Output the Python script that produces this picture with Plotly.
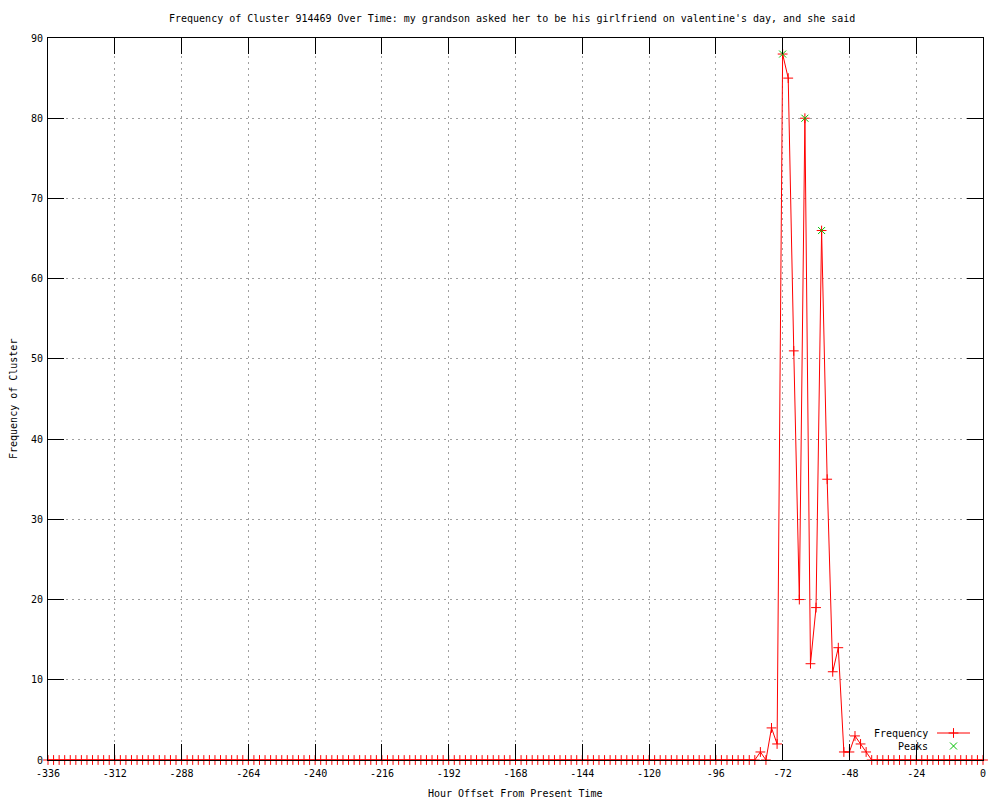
import plotly.graph_objects as go

# Hours (every 2 hours from -336 to 0)
hours = list(range(-336, 1, 2))

# Frequency values
freq = [
    0, 0, 0, 0, 0, 0, 0, 0, 0, 0, 0, 0, 0, 0, 0, 0,
    0, 0, 0, 0, 0, 0, 0, 0, 0, 0, 0, 0, 0, 0, 0, 0,
    0, 0, 0, 0, 0, 0, 0, 0, 0, 0, 0, 0, 0, 0, 0, 0,
    0, 0, 0, 0, 0, 0, 0, 0, 0, 0, 0, 0, 0, 0, 0, 0,
    0, 0, 0, 0, 0, 0, 0, 0, 0, 0, 0, 0, 0, 0, 0, 0,
    0, 0, 0, 0, 0, 0, 0, 0, 0, 0, 0, 0, 0, 0, 0, 0,
    0, 0, 0, 0, 0, 0, 0, 0, 0, 0, 0, 0, 0, 0, 0, 0,
    0, 0, 0, 0, 0, 0, 0, 0, 0, 0, 0, 0, 0, 0, 0, 0,
    # -80 .. -40
    1, 0, 4, 2, 88, 85, 51, 20, 80, 12, 19, 66, 35, 11, 14, 1, 1, 3, 2, 1, 0,
    # -38 .. 0
    0, 0, 0, 0, 0, 0, 0, 0, 0, 0, 0, 0, 0, 0, 0, 0, 0, 0, 0, 0,
]

peak_hours = [-72, -64, -58]
peak_values = [88, 80, 66]

x_tickvals = [-336, -312, -288, -264, -240, -216, -192, -168, -144, -120, -96, -72, -48, -24, 0]
x_ticktext = ["-336", "-312", "-288", "-264", "-240", "-216", "-192", "-168", "-144", "-120", "-96", "-72", "-48", "-24", "0"]
y_tickvals = [0, 10, 20, 30, 40, 50, 60, 70, 80, 90]

title_text = "Frequency of Cluster 914469 Over Time: my grandson asked her to be his girlfriend on valentine's day, and she said"

FONT = "DejaVu Sans Mono"
RED = "#ff0000"
GREEN = "#00c000"

fig = go.Figure()
fig.add_trace(go.Scatter(
    x=hours, y=freq, mode="lines+markers", name="Frequency",
    line=dict(color=RED, width=1),
    marker=dict(symbol="cross-thin-open", size=7, line=dict(color=RED, width=1), color=RED),
    showlegend=False, cliponaxis=False,
))
fig.add_trace(go.Scatter(
    x=peak_hours, y=peak_values, mode="markers", name="Peaks",
    marker=dict(symbol="x-thin-open", size=7, line=dict(color=GREEN, width=1), color=GREEN),
    showlegend=False, cliponaxis=False,
))

# Legend samples on a pixel-mapped overlay axis
fig.add_trace(go.Scatter(
    x=[937, 970], y=[733, 733], xaxis="x2", yaxis="y2", mode="lines",
    line=dict(color=RED, width=1), showlegend=False, hoverinfo="skip",
))
fig.add_trace(go.Scatter(
    x=[953.5], y=[733], xaxis="x2", yaxis="y2", mode="markers",
    marker=dict(symbol="cross-thin-open", size=7, color=RED, line=dict(color=RED, width=1)),
    showlegend=False, hoverinfo="skip",
))
fig.add_trace(go.Scatter(
    x=[953.5], y=[746], xaxis="x2", yaxis="y2", mode="markers",
    marker=dict(symbol="x-thin-open", size=7, color=GREEN, line=dict(color=GREEN, width=1)),
    showlegend=False, hoverinfo="skip",
))

axis_common = dict(
    showline=True, linecolor="black", linewidth=1, mirror="ticks",
    ticks="inside", ticklen=16, tickcolor="black", tickwidth=1,
    showgrid=True, gridcolor="#a0a0a0", griddash="2px,4px", gridwidth=1,
    zeroline=False, showspikes=False,
    tickfont=dict(family=FONT, size=10, color="black"),
)

fig.update_layout(
    width=1000, height=800, autosize=False,
    margin=dict(l=48, r=17, t=38, b=40),
    paper_bgcolor="white", plot_bgcolor="white",
    hovermode=False,
    font=dict(family=FONT, size=10, color="black"),
    xaxis=dict(range=[-336, 0], tickvals=x_tickvals, ticktext=x_ticktext,
               ticklabelstandoff=4, **axis_common),
    yaxis=dict(range=[0, 90], tickvals=y_tickvals, ticklabelstandoff=2, **axis_common),
    xaxis2=dict(overlaying="x", range=[48, 983], visible=False, anchor="y2"),
    yaxis2=dict(overlaying="y", range=[760, 38], visible=False, anchor="x2"),
    annotations=[
        dict(text=title_text, xref="paper", yref="paper", x=0.5, y=1, xshift=-4, yshift=20,
             xanchor="center", yanchor="middle", showarrow=False, font=dict(family=FONT, size=10)),
        dict(text="Frequency of Cluster", xref="paper", yref="paper", x=0, y=0.5, xshift=-35,
             textangle=-90, xanchor="center", yanchor="middle", showarrow=False, font=dict(family=FONT, size=10)),
        dict(text="Hour Offset From Present Time", xref="paper", yref="paper", x=0.5, y=0, yshift=-33,
             xanchor="center", yanchor="middle", showarrow=False, font=dict(family=FONT, size=10)),
        dict(text="Frequency", xref="x2", yref="y2", x=930, y=733, xanchor="right", yanchor="middle",
             showarrow=False, font=dict(family=FONT, size=10)),
        dict(text="Peaks", xref="x2", yref="y2", x=930, y=746, xanchor="right", yanchor="middle",
             showarrow=False, font=dict(family=FONT, size=10)),
    ],
)

fig.write_html(
    "out.html",
    config={"displayModeBar": False, "staticPlot": True},
    post_script="document.body.style.margin='0';document.body.style.padding='0';",
)
